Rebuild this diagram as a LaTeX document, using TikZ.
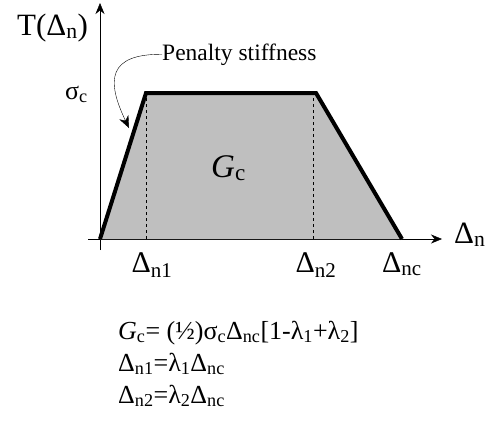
\documentclass[tikz,border=0pt]{standalone}
\usepackage{fontspec}
\setmainfont{Liberation Serif}
\usetikzlibrary{arrows.meta}
\newcommand{\sbs}[1]{\textsubscript{#1}}

\begin{document}
\begin{tikzpicture}[
    x=1pt, y=-1pt,
    every node/.style={inner sep=0pt},
    big/.style={font=\fontsize{30}{30}\selectfont},
    eqn/.style={font=\fontsize{26}{26}\selectfont, anchor=base west},
    law/.style={line width=4pt, line join=miter},
    >={Stealth[length=11pt, width=9pt]}
  ]
  \useasboundingbox (0,0) rectangle (486,432);
  % Axes
  \coordinate (o) at (100,239);
  \coordinate (ylow) at (100,250);
  \coordinate (xlow) at (88,239);
  \coordinate (ytip) at (100,3);
  \coordinate (xtip) at (442,239);
  \draw[->] (ylow) -- (ytip);
  \draw[->] (xlow) -- (xtip);
  \node[big, font=\fontsize{31}{31}\selectfont, anchor=base west] (tlab) at (17,35) {T(Δ\sbs{n})};
  \node[big, font=\fontsize{31}{31}\selectfont, anchor=base west] (dlab) at (454,243) {Δ\sbs{n}};
  % Traction-separation law
  \coordinate (p1) at (146,93);
  \coordinate (p2) at (316,93);
  \coordinate (pc) at (402,239);
  \fill[black!25] (o) -- (p1) -- (p2) -- (pc) -- cycle;
  \coordinate (d1) at (146,239);
  \coordinate (d2) at (313,239);
  \draw[dashed] (d1) -- (146,93);
  \draw[dashed] (d2) -- (313,93);
  \draw[law] (o) -- (p1) -- (p2) -- (pc);
  \node[font=\fontsize{26}{26}\selectfont, anchor=base east] (sig) at (88,99) {σ\sbs{c}};
  \node[font=\fontsize{33}{33}\selectfont, anchor=base west] (gc) at (211,177) {\textit{G}\sbs{c}};
  \node[big, anchor=base] (l1) at (152,272) {Δ\sbs{n1}};
  \node[big, anchor=base] (l2) at (316,272) {Δ\sbs{n2}};
  \node[big, anchor=base] (lc) at (402,272) {Δ\sbs{nc}};
  % Penalty stiffness
  \node[font=\fontsize{23.5}{23.5}\selectfont, anchor=base west] (pen) at (162,60) {Penalty stiffness};
  \coordinate (ptip) at (129,128);
  \draw[-{Stealth[length=12pt, width=10pt]}] (pen.west) .. controls (108,54) and (106,80) .. (ptip);
  % Formulas
  \node[eqn] (e1) at (118,339) {\textit{G}\sbs{c}= (½)σ\sbs{c}Δ\sbs{nc}[1-λ\sbs{1}+λ\sbs{2}]};
  \node[eqn] (e2) at (118,371) {Δ\sbs{n1}=λ\sbs{1}Δ\sbs{nc}};
  \node[eqn] (e3) at (118,403) {Δ\sbs{n2}=λ\sbs{2}Δ\sbs{nc}};
\end{tikzpicture}
\end{document}
